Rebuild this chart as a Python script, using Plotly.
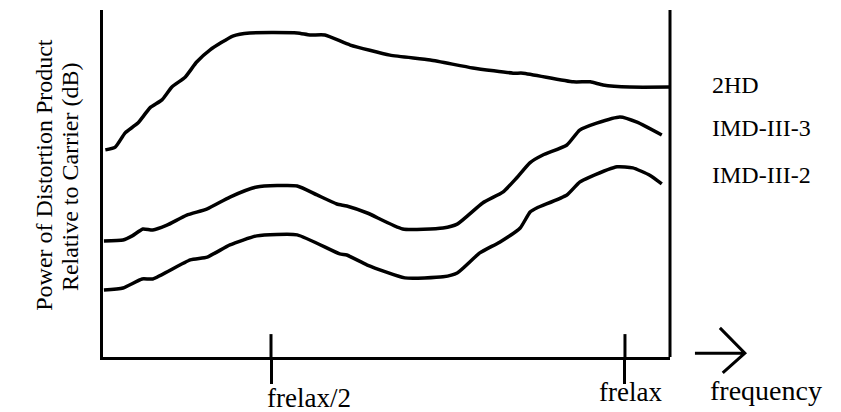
import plotly.graph_objects as go

# frequency in units of frelax (frelax = 1.0)
x_2hd = [0.266, 0.280, 0.294, 0.312, 0.329, 0.346, 0.360, 0.379, 0.395, 0.414, 0.446, 0.470,
         0.537, 0.555, 0.576, 0.612, 0.668, 0.725, 0.785, 0.842, 0.856, 0.927, 0.951, 0.969,
         1.007, 1.064]
y_2hd = [59.7, 60.5, 64.6, 67.4, 71.8, 74.1, 77.8, 80.7, 85.0, 88.5, 92.5, 93.4,
         93.4, 92.8, 92.8, 89.9, 87.0, 85.6, 83.3, 81.8, 81.8, 79.3, 79.3, 78.4,
         77.8, 77.8]

x_imd3 = [0.264, 0.291, 0.304, 0.319, 0.333, 0.353, 0.381, 0.410, 0.442, 0.480, 0.537, 0.565,
          0.593, 0.607, 0.636, 0.686, 0.743, 0.763, 0.799, 0.828, 0.847, 0.866, 0.884, 0.918,
          0.936, 0.960, 0.993, 1.017, 1.052]
y_imd3 = [33.4, 33.7, 34.9, 36.9, 36.6, 38.0, 40.9, 42.7, 46.1, 49.0, 49.3, 46.7,
          44.1, 43.5, 41.5, 36.9, 37.2, 38.3, 44.4, 47.6, 51.6, 56.0, 58.2, 61.1,
          65.4, 67.4, 69.2, 67.7, 64.0]

x_imd2 = [0.264, 0.291, 0.318, 0.333, 0.386, 0.410, 0.442, 0.480, 0.537, 0.597, 0.607, 0.636,
          0.689, 0.743, 0.763, 0.795, 0.823, 0.852, 0.866, 0.876, 0.918, 0.936, 0.951, 0.989,
          1.011, 1.035, 1.052]
y_imd2 = [19.3, 19.9, 22.5, 22.5, 28.0, 28.8, 32.3, 34.9, 35.2, 29.7, 29.4, 26.5,
          22.8, 23.1, 24.2, 30.0, 33.1, 37.2, 41.8, 43.0, 46.7, 50.4, 51.9, 54.8,
          54.5, 52.4, 49.9]

series_names = ["2HD", "IMD-III-3", "IMD-III-2"]
label_y = [78.4, 66.0, 52.4]

tick_vals = [0.5, 1.0]
tick_text = ["frelax/2", "frelax"]

x_range = [0.2627, 1.0636]
y_range = [0, 100]

FONT = "Liberation Serif"
LW = 3.5

fig = go.Figure()
for xs, ys, name in [(x_2hd, y_2hd, series_names[0]),
                     (x_imd3, y_imd3, series_names[1]),
                     (x_imd2, y_imd2, series_names[2])]:
    fig.add_trace(go.Scatter(x=xs, y=ys, mode="lines", name=name,
                             line=dict(color="black", width=LW, shape="spline", smoothing=0.5),
                             showlegend=False, hoverinfo="skip"))

shapes = []
# right vertical boundary
shapes.append(dict(type="line", xref="paper", yref="paper", x0=1, x1=1, y0=0, y1=1,
                   line=dict(color="black", width=3)))
# upper halves of the crossing ticks
for tv in tick_vals:
    shapes.append(dict(type="line", xref="x", yref="y", x0=tv, x1=tv, y0=0, y1=6.6,
                       line=dict(color="black", width=3)))
# frequency arrow
shapes.append(dict(type="path", xref="paper", yref="paper",
                   path="M 1.044 0.011 L 1.132 0.011 M 1.088 0.084 L 1.132 0.011 L 1.093 -0.046",
                   line=dict(color="black", width=3)))

annotations = []
for name, ly in zip(series_names, label_y):
    annotations.append(dict(text=name, xref="paper", yref="y", x=1.0705, y=ly,
                            xanchor="left", yanchor="middle", showarrow=False,
                            font=dict(family=FONT, size=24, color="black")))
annotations.append(dict(text=tick_text[0], xref="x", yref="paper", x=tick_vals[0], y=-0.118,
                        xanchor="left", yanchor="middle", xshift=-6, showarrow=False,
                        font=dict(family=FONT, size=27, color="black")))
annotations.append(dict(text=tick_text[1], xref="x", yref="paper", x=tick_vals[1], y=-0.10,
                        xanchor="center", yanchor="middle", xshift=6, showarrow=False,
                        font=dict(family=FONT, size=27, color="black")))
annotations.append(dict(text="frequency", xref="paper", yref="paper", x=1.067, y=-0.097,
                        xanchor="left", yanchor="middle", showarrow=False,
                        font=dict(family=FONT, size=28, color="black")))
annotations.append(dict(text="Power of Distortion Product", xref="paper", yref="paper",
                        x=-0.103, y=0.524, textangle=-90, xanchor="center", yanchor="middle",
                        showarrow=False, font=dict(family=FONT, size=24, color="black")))
annotations.append(dict(text="Relative to Carrier (dB)", xref="paper", yref="paper",
                        x=-0.059, y=0.52, textangle=-90, xanchor="center", yanchor="middle",
                        showarrow=False, font=dict(family=FONT, size=24, color="black")))

fig.update_layout(
    width=841, height=412,
    margin=dict(l=103, r=171, t=10, b=55),
    paper_bgcolor="white", plot_bgcolor="white",
    xaxis=dict(range=x_range, showgrid=False, zeroline=False, showline=True,
               linecolor="black", linewidth=3, tickmode="array", tickvals=tick_vals,
               ticks="outside", ticklen=24, tickwidth=3, tickcolor="black",
               showticklabels=False),
    yaxis=dict(range=y_range, showgrid=False, zeroline=False, showline=True,
               linecolor="black", linewidth=3, showticklabels=False, ticks=""),
    shapes=shapes, annotations=annotations,
)

fig.write_html("out.html")
